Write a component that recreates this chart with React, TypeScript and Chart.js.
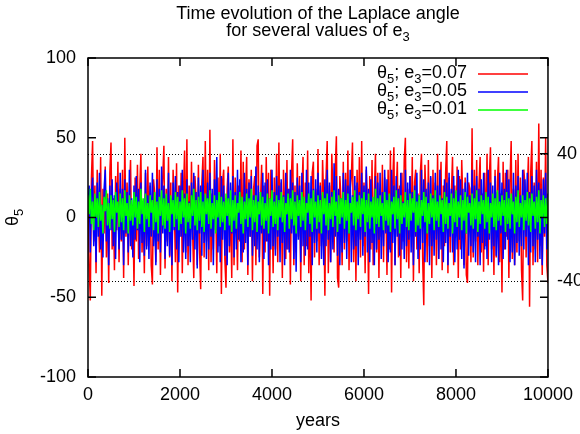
import React, { useEffect, useRef } from 'react';
import { Chart, registerables } from 'chart.js';

Chart.register(...registerables);

// ---- data ----
const YEAR_STEP = 25; // sampling interval of the integration output (years)
const X_TICKS = [0, 2000, 4000, 6000, 8000, 10000];
const Y_TICKS = [-100, -50, 0, 50, 100];
const Y2_TICKS = [-40, 40];
const TITLE_LINES = ['Time evolution of the Laplace angle', 'for several values of e_3'];
const X_TITLE = 'years';
const Y_TITLE = 'θ_5';
const SERIES_LABELS = ['θ_5; e_3=0.07', 'θ_5; e_3=0.05', 'θ_5; e_3=0.01'];
const SERIES_COLORS = ['#ff0000', '#0000ff', '#00ff00'];

const THETA_E007 = [
  10, -30, -52, 25, 48, -15, 20, -35, 30, 5, -22, 38, -49, 18, -10, 32, -25, 15, -41, 28,
  47, -20, 12, -33, 26, -8, 35, -28, 18, -15, 30, -38, 50, -12, 22, -30, 15, 36, -20, 8,
  -43, 25, -15, 33, -26, 18, 40, -22, 10, -35, 28, -18, 32, -8, 20, -30, -42, 24, 15, -28,
  44, -20, 30, -36, 12, 25, 45, -32, 18, -15, 38, -25, 22, -40, 30, 8, -28, 34, -47, 20,
  -12, 28, -35, 15, 42, -22, 49, -30, 20, -18, 35, -10, -38, 26, 12, -30, 33, -20, -45, 22,
  38, -25, 48, -15, 30, -33, 55, -28, 15, -20, 36, 10, -35, 25, -18, 40, -48, 22, 30, -26,
  -44, 18, 32, -22, 12, -38, 49, -30, 25, 8, -33, 20, -15, 42, -28, 35, -20, 15, 38, -36,
  24, -12, 30, -40, 18, 26, -30, 45, 49, -25, 10, 33, -48, 20, -22, 38, -15, 28, -49, 30,
  12, -35, 25, -20, 40, -28, 47, -15, 22, -38, 30, 8, -26, 36, -20, 18, -42, 28, 49, -30,
  20, -22, 34, -12, 26, -40, 15, 38, -30, 22, -18, 42, -35, 10, -52, 28, 35, -25, 18, -15,
  43, -30, 22, -18, 36, 10, -49, 25, 48, -35, 20, -28, 40, 15, -22, 30, 51, -38, -44, 26,
  12, -30, 35, -20, 28, -15, 42, -33, 18, 25, 47, -28, 20, -40, 30, -12, 38, -25, 48, -18,
  22, -35, 30, 10, -48, 26, -20, 36, -30, 15, 40, -22, 28, -38, 18, -12, 33, -28, 25, 8,
  -36, 30, -20, 42, -47, 22, 44, -30, 15, 35, -25, 20, -38, 28, -15, 36, 50, -28, 18, -32,
  26, -12, 38, -40, 22, 30, -20, 15, -35, 28, 40, -25, -55, 33, 10, -28, 36, -18, 25, -38,
  30, -15, 22, -30, 40, -26, 12, 35, -33, 20, -18, 28, 48, -35, 25, -22, 15, 38, -30, 20,
  -12, 32, -38, 26, -20, 36, 10, -30, 25, -36, -41, 22, 18, -28, 56, -25, 30, -15, 36, -30,
  20, 38, -22, 15, -34, 28, -18, 40, -30, 25, 44, -20, 12, -36, 30, -25, 22, 38, -28, 15,
  -47, 35, -20, 28, -12, 30, -38, 22, 48, -26, 18, -30, 36, -22, 40, -15, 25, -33, -52, 30,
  20, -25, 15, 38, -56, 28, 48, -30, 22, -20, 35, -28, 59, -18, 30, -36, 25, -12, 50, -30,
  -41,
];

const THETA_E005 = [
  5, 20, -22, 15, 25, -18, 10, -28, 22, -12, 28, -20, 8, -25, 18, 30, -15, 12, -30, 20,
  -8, 24, -18, 14, -26, 22, 6, -20, 28, -14, 18, -30, 24, -10, 16, -22, 30, -18, 12, -25,
  20, -14, 26, -8, 18, -28, 22, -16, 10, -24, 30, -20, 14, -26, 22, -12, 28, -18, 8, -30,
  24, -15, 18, -22, 32, -10, 20, -26, 14, -18, 28, -24, 12, -30, 22, -8, 26, -20, 16, -28,
  20, -12, 30, -22, 15, -26, 24, -18, 10, -28, 22, -14, 28, -20, 16, -32, 25, -10, 20, -24,
  30, -16, 14, -26, 22, -20, 28, -12, 18, -30, 24, -8, 38, -22, 15, -28, 26, -14, 20, -24,
  12, -30, 28, -18, 22, -10, 26, -25, 16, -20, 30, -14, 24, -28, 10, -22, 28, -16, 18, -30,
  22, -12, 26, -24, 14, -18, 32, -20, 20, -28, 16, -10, 28, -26, 22, -15, 24, -30, 12, -20,
  30, -18, 16, -24, 26, -12, 20, -28, 24, -16, 14, -30, 28, -20, 18, -22, 30, -10, 22, -26,
  16, -34, 25, -14, 20, -28, 28, -18, 12, -24, 30, -20, 22, -12, 26, -30, 18, -16, 24, -22,
  28, -10, 20, -26, 14, -30, 24, -18, 30, -14, 22, -28, 16, -20, 34, -12, 26, -24, 18, -30,
  12, -22, 28, -16, 24, -26, 20, -10, 30, -28, 14, -20, 26, -18, 22, -30, 16, -14, 28, -24,
  20, -12, 32, -22, 18, -28, 24, -16, 12, -30, 26, -20, 22, -14, 28, -26, 16, -18, 30, -10,
  24, -28, 14, -22, 30, -16, 20, -30, 26, -12, 18, -24, 28, -20, 10, -26, 30, -18, 22, -14,
  26, -22, 16, -30, 20, -12, 28, -26, 14, -20, 30, -16, 24, -28, 18, -10, 22, -30, 26, -18,
  14, -24, 28, -14, 20, -26, 30, -20, 12, -28, 24, -16, 22, -30, 28, -12, 18, -22, 26, -28,
  16, -20, 30, -14, 24, -26, 18, -32, 22, -10, 28, -24, 14, -18, 30, -22, 20, -28, 26, -12,
  18, -30, 24, -16, 28, -20, 12, -26, 30, -14, 22, -28, 20, -18, 26, -24, 16, -30, 28, -10,
  22, -26, 18, -20, 30, -14, 24, -28, 12, -22, 28, -30, 20, -16, 26, -24, 14, -18, 30, -20,
  24, -12, 28, -30, 16, -22, 26, -18, 20, -28, 30, -14, 22, -26, 18, -30, 24, -10, 28, -20,
  15,
];

const THETA_E001 = [
  14, 2, 18, -4, 10, -8, 15, 0, 12, -6, 16, -2, 8, -10, 13, 4, 17, -5, 9, -7,
  14, -1, 11, -9, 16, 3, 10, -6, 15, -3, 12, -8, 17, 1, 9, -10, 14, -2, 11, -5,
  16, 0, 13, -7, 10, -4, 18, 2, 12, -9, 15, -1, 9, -6, 14, 3, 11, -8, 16, -3,
  10, -10, 13, 1, 17, -5, 12, -7, 15, -2, 9, -9, 14, 2, 11, -6, 16, -1, 13, -8,
  10, -4, 17, 0, 12, -10, 15, -3, 9, -7, 14, 1, 18, -5, 11, -8, 13, -2, 16, -6,
  10, -9, 15, 2, 12, -4, 17, -7, 9, -1, 14, -10, 11, 0, 16, -6, 13, -3, 10, -8,
  15, 1, 12, -5, 17, -9, 11, -2, 14, -7, 9, 3, 16, -4, 13, -10, 10, -1, 15, -6,
  12, 0, 18, -8, 11, -3, 14, -9, 10, 2, 16, -5, 13, -7, 9, -2, 15, -10, 12, 1,
  17, -6, 10, -4, 14, -8, 11, 0, 16, -3, 13, -9, 9, 2, 15, -7, 12, -1, 17, -5,
  10, -10, 14, 1, 11, -6, 16, -2, 13, -8, 9, 3, 15, -4, 12, -9, 17, 0, 10, -7,
  14, -3, 11, -10, 16, 2, 12, -5, 15, -8, 9, -1, 13, -6, 17, 1, 10, -9, 14, -4,
  12, 0, 16, -7, 11, -2, 15, -10, 9, 3, 13, -5, 17, -8, 10, -1, 14, -6, 12, 2,
  16, -9, 11, -3, 15, -7, 10, 0, 13, -10, 18, -4, 12, -6, 14, 1, 9, -8, 16, -2,
  11, -5, 15, -9, 10, 2, 13, -7, 17, -1, 12, -10, 14, -4, 9, 0, 16, -6, 11, -8,
  15, -2, 12, 3, 17, -9, 10, -5, 14, -7, 11, 1, 16, -3, 13, -10, 9, -4, 15, 0,
  12, -8, 17, -2, 10, -6, 14, 2, 11, -9, 16, -4, 13, -7, 9, 1, 15, -10, 12, -3,
  17, -6, 10, 0, 14, -8, 11, -2, 16, -10, 13, 3, 9, -5, 15, -7, 12, -1, 17, -9,
  10, -4, 14, 2, 11, -7, 16, -3, 13, -10, 9, 0, 15, -6, 12, -8, 17, -2, 10, -5,
  14, 1, 11, -9, 16, -4, 12, -7, 15, 2, 10, -10, 13, -3, 17, -6, 9, 0, 14, -8,
  11, -2, 16, -5, 12, -9, 15, 1, 10, -7, 13, -3, 17, -10, 11, 0, 14, -6, 12, -4,
  13,
];

const SERIES = [THETA_E007, THETA_E005, THETA_E001];

// ---- helpers ----
const FAMILY = '"Liberation Sans", Arial, Helvetica, sans-serif';
const FS = 18;
const font = (s: number) => `${s}px ${FAMILY}`;

type Part = { t: string; sub: boolean };
function parseRich(s: string): Part[] {
  const parts: Part[] = [];
  let buf = '';
  for (let i = 0; i < s.length; i++) {
    if (s[i] === '_' && i + 1 < s.length) {
      if (buf) parts.push({ t: buf, sub: false });
      buf = '';
      parts.push({ t: s[i + 1], sub: true });
      i++;
    } else buf += s[i];
  }
  if (buf) parts.push({ t: buf, sub: false });
  return parts;
}
function richWidth(ctx: CanvasRenderingContext2D, parts: Part[], size: number) {
  let w = 0;
  for (const p of parts) {
    ctx.font = font(p.sub ? size * 0.72 : size);
    w += ctx.measureText(p.t).width;
  }
  return w;
}
function drawRich(ctx: CanvasRenderingContext2D, s: string, x: number, y: number, size: number, align: 'left' | 'right' | 'center') {
  const parts = parseRich(s);
  const w = richWidth(ctx, parts, size);
  let cx = align === 'left' ? x : align === 'right' ? x - w : x - w / 2;
  ctx.textAlign = 'left';
  ctx.textBaseline = 'alphabetic';
  ctx.fillStyle = '#000';
  for (const p of parts) {
    const sz = p.sub ? size * 0.72 : size;
    ctx.font = font(sz);
    ctx.fillText(p.t, cx, p.sub ? y + size * 0.28 : y);
    cx += ctx.measureText(p.t).width;
  }
}

const framePlugin = {
  id: 'gnuplotFrame',
  beforeDatasetsDraw(chart: any) {
    const { ctx, chartArea: a } = chart;
    const y2 = chart.scales.y2;
    ctx.save();
    ctx.strokeStyle = '#000';
    ctx.lineWidth = 1;
    ctx.setLineDash([1, 2]);
    for (const t of y2.ticks) {
      const py = Math.round(y2.getPixelForValue(t.value)) + 0.5;
      ctx.beginPath();
      ctx.moveTo(a.left, py);
      ctx.lineTo(a.right, py);
      ctx.stroke();
    }
    ctx.restore();
  },
  afterDatasetsDraw(chart: any) {
    const { ctx, chartArea: a } = chart;
    const xs = chart.scales.x;
    const ys = chart.scales.y;
    const y2 = chart.scales.y2;
    const TL = 8;
    ctx.save();
    ctx.strokeStyle = '#000';
    ctx.lineWidth = 1.5;
    ctx.setLineDash([]);
    ctx.strokeRect(a.left, a.top, a.right - a.left, a.bottom - a.top);
    ctx.beginPath();
    for (const t of xs.ticks) {
      const px = xs.getPixelForValue(t.value);
      ctx.moveTo(px, a.bottom);
      ctx.lineTo(px, a.bottom - TL);
      ctx.moveTo(px, a.top);
      ctx.lineTo(px, a.top + TL);
    }
    for (const t of ys.ticks) {
      const py = ys.getPixelForValue(t.value);
      ctx.moveTo(a.left, py);
      ctx.lineTo(a.left + TL, py);
      ctx.moveTo(a.right, py);
      ctx.lineTo(a.right - TL, py);
    }
    for (const t of y2.ticks) {
      const py = y2.getPixelForValue(t.value);
      ctx.moveTo(a.right, py);
      ctx.lineTo(a.right - TL, py);
    }
    ctx.stroke();

    // legend (gnuplot style: text right-aligned, sample line to the right)
    const textRight = 467;
    const lx0 = 478;
    const lx1 = 528;
    chart.data.datasets.forEach((ds: any, i: number) => {
      const base = 78 + i * 18;
      drawRich(ctx, ds.label, textRight, base, FS, 'right');
      ctx.strokeStyle = ds.borderColor;
      ctx.lineWidth = 1.5;
      ctx.beginPath();
      ctx.moveTo(lx0, base - 4);
      ctx.lineTo(lx1, base - 4);
      ctx.stroke();
    });

    // title
    const cx = (a.left + a.right) / 2;
    drawRich(ctx, TITLE_LINES[0], cx, 19, FS, 'center');
    drawRich(ctx, TITLE_LINES[1], cx, 36, FS, 'center');

    // y axis title, rotated
    ctx.translate(18, (a.top + a.bottom) / 2);
    ctx.rotate(-Math.PI / 2);
    drawRich(ctx, Y_TITLE, 0, 0, FS, 'center');
    ctx.restore();
  },
};

export default function App() {
  const ref = useRef<HTMLCanvasElement | null>(null);
  useEffect(() => {
    document.body.style.margin = '0';
    const canvas = ref.current;
    if (!canvas) return;
    const datasets = SERIES.map((vals, i) => ({
      label: SERIES_LABELS[i],
      data: vals.map((v, j) => ({ x: j * YEAR_STEP, y: v })),
      borderColor: SERIES_COLORS[i],
      backgroundColor: SERIES_COLORS[i],
      borderWidth: 1.5,
      pointRadius: 0,
      tension: 0,
      fill: false,
      order: SERIES.length - i,
      yAxisID: 'y',
    }));
    const tickFont = { family: FAMILY, size: FS };
    const noGrid = { display: false, drawTicks: false };
    const chart = new Chart(canvas, {
      type: 'line',
      data: { datasets },
      options: {
        animation: false,
        responsive: false,
        maintainAspectRatio: false,
        devicePixelRatio: 1,
        layout: { padding: { top: 58, left: 0, right: 0, bottom: 0 } },
        plugins: { legend: { display: false }, title: { display: false }, tooltip: { enabled: false } },
        scales: {
          x: {
            type: 'linear',
            min: 0,
            max: 10000,
            position: 'bottom',
            afterBuildTicks: (s: any) => { s.ticks = X_TICKS.map((v) => ({ value: v })); },
            afterFit: (s: any) => { s.height = 57; },
            grid: noGrid,
            border: { display: false },
            ticks: { font: tickFont, color: '#000', padding: 7, maxRotation: 0, autoSkip: false, callback: (v: any) => String(v) },
            title: { display: true, text: X_TITLE, font: tickFont, color: '#000', padding: { top: 0, bottom: 2 } },
          },
          y: {
            type: 'linear',
            min: -100,
            max: 100,
            position: 'left',
            afterBuildTicks: (s: any) => { s.ticks = Y_TICKS.map((v) => ({ value: v })); },
            afterFit: (s: any) => { s.width = 88; },
            grid: noGrid,
            border: { display: false },
            ticks: { font: tickFont, color: '#000', padding: 12, callback: (v: any) => String(v) },
          },
          y2: {
            type: 'linear',
            min: -100,
            max: 100,
            position: 'right',
            afterBuildTicks: (s: any) => { s.ticks = Y2_TICKS.map((v) => ({ value: v })); },
            afterFit: (s: any) => { s.width = 32; },
            grid: noGrid,
            border: { display: false },
            ticks: { font: tickFont, color: '#000', padding: 9, callback: (v: any) => String(v) },
          },
        },
      },
      plugins: [framePlugin],
    } as any);
    return () => chart.destroy();
  }, []);
  return (
    <div style={{ width: 580, height: 434 }}>
      <canvas ref={ref} width={580} height={434} style={{ display: 'block' }} />
    </div>
  );
}
